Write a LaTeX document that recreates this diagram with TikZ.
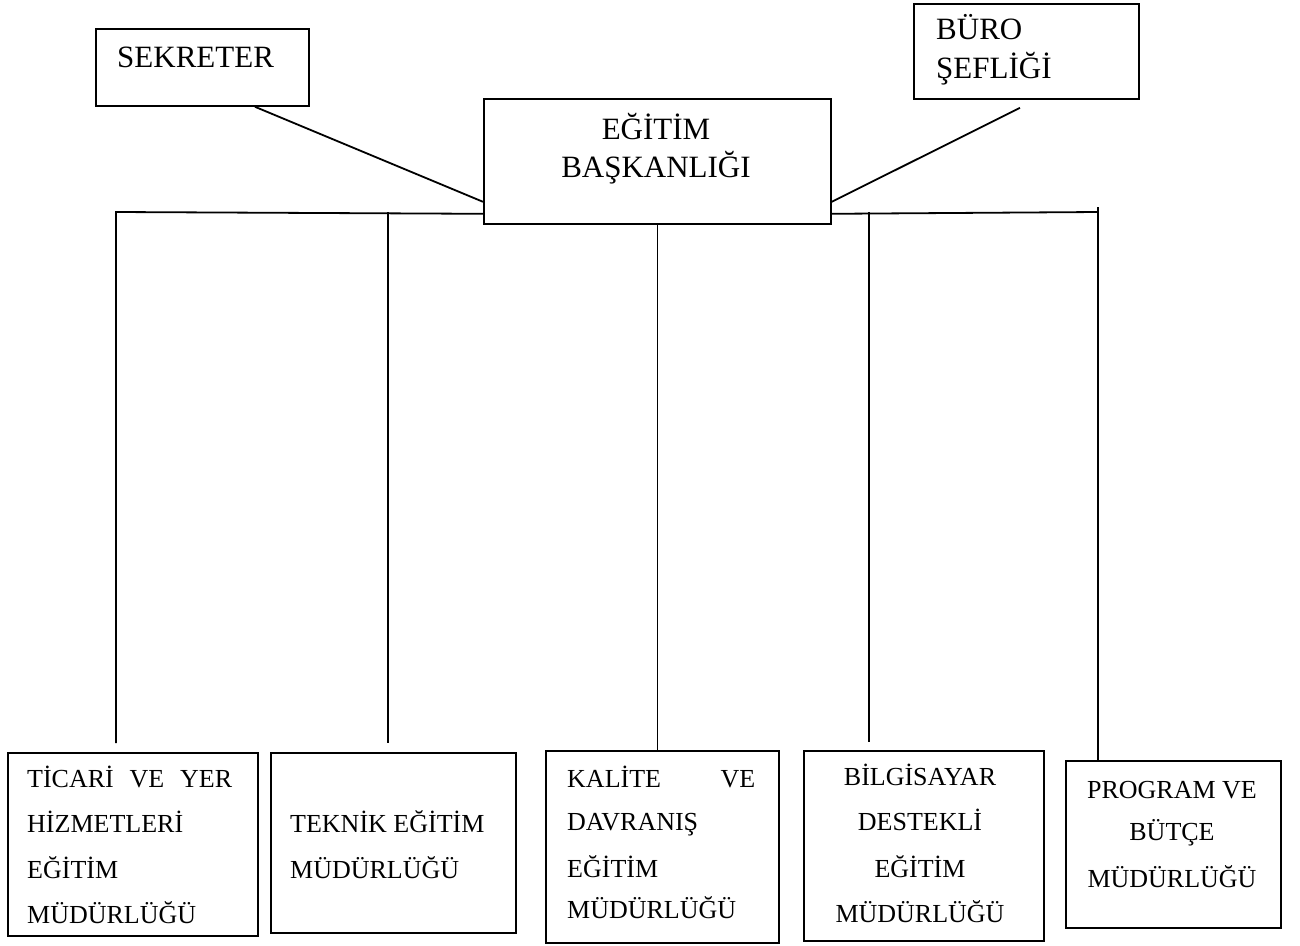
\documentclass[tikz,border=0pt]{standalone}
\usepackage{fontspec}
\setmainfont{Liberation Serif}
\usetikzlibrary{calc}

\tikzset{
  unitbox/.style={draw, line width=1.8pt, inner sep=0pt, anchor=north west},
  link/.style={line width=1.8pt},
  bigtext/.style={font=\fontsize{31}{38}\selectfont, inner sep=0pt},
  smalltext/.style={font=\fontsize{26}{45}\selectfont, inner sep=0pt}
}

\begin{document}
\begin{tikzpicture}[x=1pt, y=-1pt]
  \useasboundingbox (0,0) rectangle (1300,945);

  % top level boxes
  \node[unitbox, minimum width=213pt, minimum height=77pt]  (sek)  at (95,28)  {};
  \node[unitbox, minimum width=347pt, minimum height=125pt] (main) at (483,98) {};
  \node[unitbox, minimum width=225pt, minimum height=95pt]  (buro) at (913,3)  {};

  % directorate boxes
  \node[unitbox, minimum width=250pt, minimum height=183pt] (b1) at (7,752)    {};
  \node[unitbox, minimum width=245pt, minimum height=180pt] (b2) at (270,752)  {};
  \node[unitbox, minimum width=233pt, minimum height=192pt] (b3) at (545,750)  {};
  \node[unitbox, minimum width=240pt, minimum height=190pt] (b4) at (803,750)  {};
  \node[unitbox, minimum width=215pt, minimum height=167pt] (b5) at (1065,760) {};

  % labels of the top level
  \node[bigtext, anchor=base west] (sekT)  at (117,67)  {SEKRETER};
  \node[bigtext, anchor=base]      (mainA) at (656,139) {EĞİTİM};
  \node[bigtext, anchor=base]      (mainB) at (656,177) {BAŞKANLIĞI};
  \node[bigtext, anchor=base west] (buroA) at (936,39)  {BÜRO};
  \node[bigtext, anchor=base west] (buroB) at (936,78)  {ŞEFLİĞİ};

  % labels of the directorates
  \node[smalltext, anchor=base west] (b1a) at (27,787) {\makebox[205pt]{TİCARİ\hfill VE\hfill YER}};
  \node[smalltext, anchor=base west] (b1b) at (27,832) {HİZMETLERİ};
  \node[smalltext, anchor=base west] (b1c) at (27,878) {EĞİTİM};
  \node[smalltext, anchor=base west] (b1d) at (27,923) {MÜDÜRLÜĞÜ};

  \node[smalltext, anchor=base west] (b2a) at (290,832) {TEKNİK EĞİTİM};
  \node[smalltext, anchor=base west] (b2b) at (290,878) {MÜDÜRLÜĞÜ};

  \node[smalltext, anchor=base west] (b3a) at (567,787) {\makebox[188pt]{KALİTE\hfill VE}};
  \node[smalltext, anchor=base west] (b3b) at (567,830) {DAVRANIŞ};
  \node[smalltext, anchor=base west] (b3c) at (567,877) {EĞİTİM};
  \node[smalltext, anchor=base west] (b3d) at (567,918) {MÜDÜRLÜĞÜ};

  \node[smalltext, anchor=base] (b4a) at (920,785) {BİLGİSAYAR};
  \node[smalltext, anchor=base] (b4b) at (920,830) {DESTEKLİ};
  \node[smalltext, anchor=base] (b4c) at (920,877) {EĞİTİM};
  \node[smalltext, anchor=base] (b4d) at (920,922) {MÜDÜRLÜĞÜ};

  \node[smalltext, anchor=base] (b5a) at (1172,798) {PROGRAM VE};
  \node[smalltext, anchor=base] (b5b) at (1172,840) {BÜTÇE};
  \node[smalltext, anchor=base] (b5c) at (1172,887) {MÜDÜRLÜĞÜ};

  % staff links
  \draw[link] ([xshift=160pt]sek.south west) -- ([yshift=23pt]main.south west);
  \draw[link] ([xshift=107pt,yshift=-8pt]buro.south west) -- ([yshift=23pt]main.south east);

  % distribution bus
  \coordinate (busL) at (116,212);
  \coordinate (busR) at (1098,212);
  \coordinate (t1) at (116,743);
  \coordinate (s2) at (388,212);
  \coordinate (t2) at (388,743);
  \coordinate (s4) at (869,212);
  \coordinate (t4) at (869,742);
  \coordinate (s5) at (1098,207);

  \draw[link] ([yshift=11pt]main.south west) -- (busL) -- (t1);
  \draw[link] (s2) -- (t2);
  \draw[link] (main.south) -- (b3.north -| main.south);
  \draw[link] ([yshift=11pt]main.south east) -- (busR);
  \draw[link] (s4) -- (t4);
  \draw[link] (s5) -- (b5.north west -| s5);
\end{tikzpicture}
\end{document}
